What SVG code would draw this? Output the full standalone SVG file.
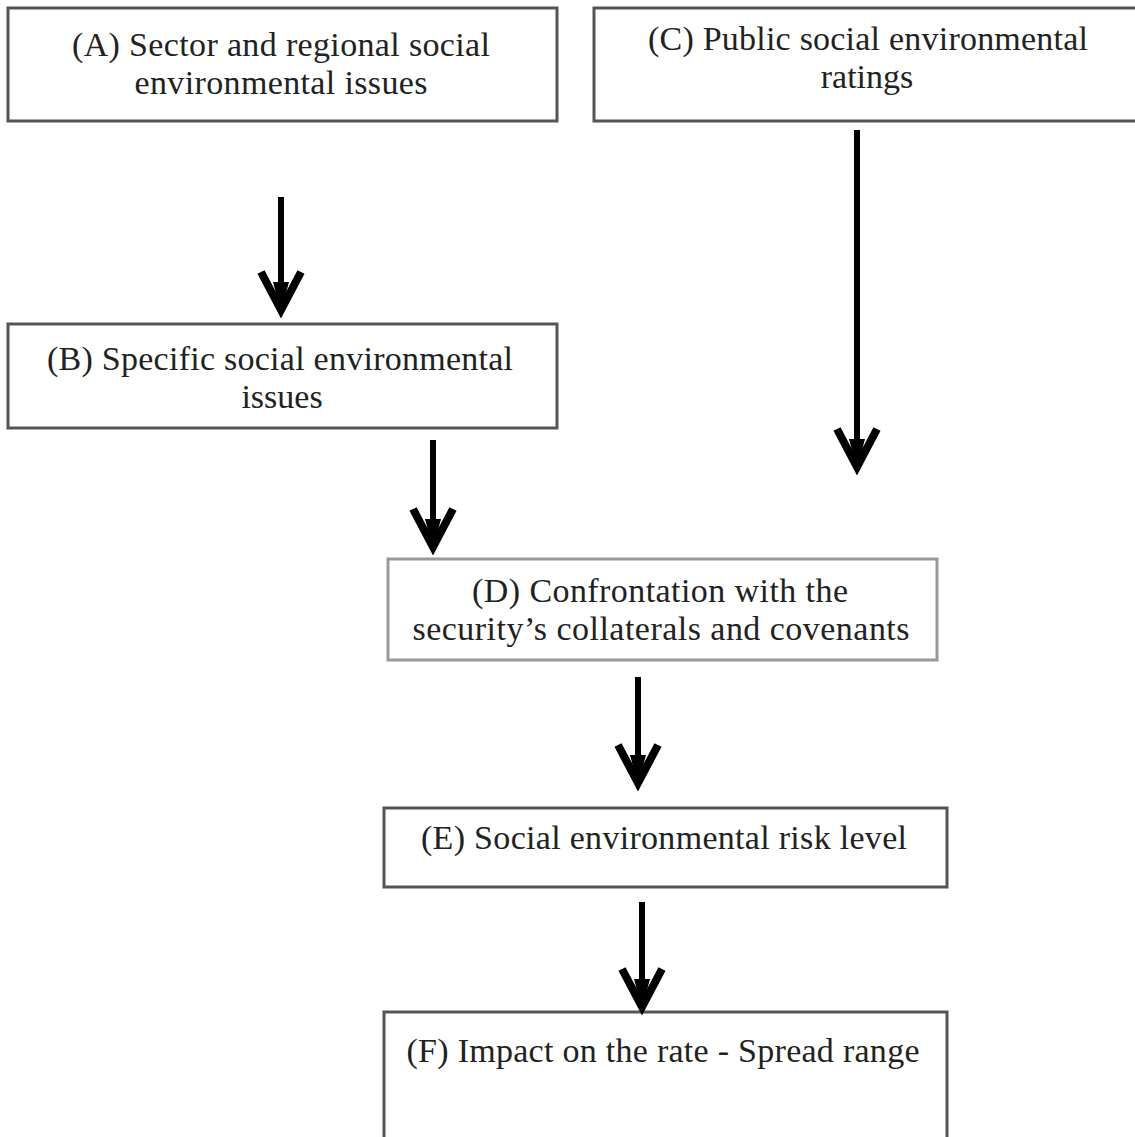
<svg xmlns="http://www.w3.org/2000/svg" width="1135" height="1137" viewBox="0 0 1135 1137">
<style>
.box{fill:#fff;stroke:#555;stroke-width:3}
.boxl{fill:#fff;stroke:#999;stroke-width:3}
.t{font-family:"Liberation Serif","Times New Roman",serif;font-size:34px;fill:#222;text-anchor:middle}
.conn{stroke:#000;stroke-width:6;fill:none}
</style>
<defs>
<marker id="ah" markerUnits="userSpaceOnUse" orient="auto" refX="0" refY="0" markerWidth="60" markerHeight="60" overflow="visible">
<path d="M-40,-20 L-2,0 L-40,20" fill="none" stroke="#000" stroke-width="8" stroke-linejoin="miter"/>
<path d="M-30,-8 L0,0 L-30,8 Z" fill="#000"/>
</marker>
</defs>
<rect width="1135" height="1137" fill="#fff"/>
<g id="nodeA">
<rect class="box" x="8" y="8" width="549" height="113"/>
<text class="t" x="281" y="56" textLength="418" lengthAdjust="spacing">(A) Sector and regional social</text>
<text class="t" x="281" y="94" textLength="293" lengthAdjust="spacing">environmental issues</text>
</g>
<g id="nodeC">
<rect class="box" x="594" y="8" width="560" height="113"/>
<text class="t" x="868" y="50" textLength="440" lengthAdjust="spacing">(C) Public  social environmental</text>
<text class="t" x="867" y="88">ratings</text>
</g>
<g id="nodeB">
<rect class="box" x="8" y="324" width="549" height="104"/>
<text class="t" x="280" y="370" textLength="466" lengthAdjust="spacing">(B) Specific  social environmental</text>
<text class="t" x="282" y="408">issues</text>
</g>
<g id="nodeD">
<rect class="boxl" x="388" y="559" width="549" height="101"/>
<text class="t" x="660" y="602" textLength="376" lengthAdjust="spacing">(D) Confrontation with the</text>
<text class="t" x="661" y="640" textLength="497" lengthAdjust="spacing">security’s collaterals and covenants</text>
</g>
<g id="nodeE">
<rect class="box" x="384" y="808" width="563" height="79"/>
<text class="t" x="664" y="849" textLength="486" lengthAdjust="spacing">(E) Social environmental risk level</text>
</g>
<g id="nodeF">
<rect class="box" x="384" y="1012" width="563" height="140"/>
<text class="t" x="663" y="1062" textLength="513" lengthAdjust="spacing">(F) Impact on the rate - Spread range</text>
</g>
<g id="connectors">
<line class="conn" x1="281" y1="197" x2="281" y2="312" marker-end="url(#ah)"/>
<line class="conn" x1="857" y1="130" x2="857" y2="469" marker-end="url(#ah)"/>
<line class="conn" x1="433" y1="440" x2="433" y2="549" marker-end="url(#ah)"/>
<line class="conn" x1="638" y1="677" x2="638" y2="785" marker-end="url(#ah)"/>
<line class="conn" x1="642" y1="902" x2="642" y2="1009" marker-end="url(#ah)"/>
</g>
</svg>
